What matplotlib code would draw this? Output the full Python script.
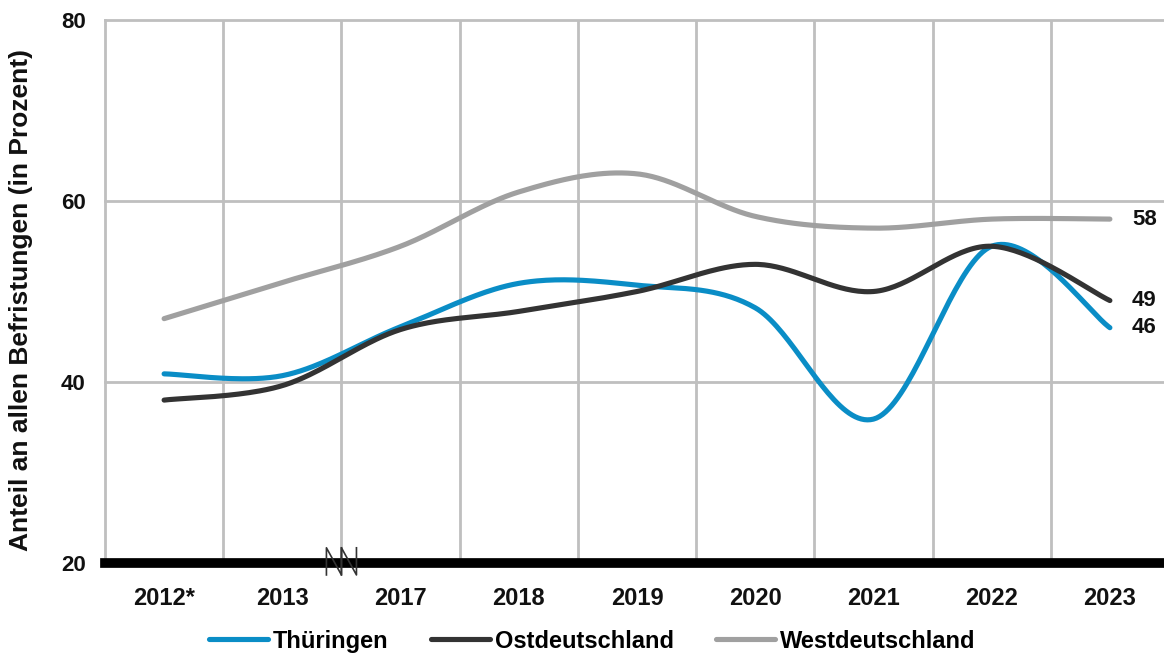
import numpy as np
import matplotlib
matplotlib.use("Agg")
import matplotlib.pyplot as plt
import matplotlib.transforms as mtransforms

plt.rcParams["font.family"] = ["Liberation Sans", "DejaVu Sans"]
plt.rcParams["font.weight"] = "bold"

years = ["2012*", "2013", "2017", "2018", "2019", "2020", "2021", "2022", "2023"]
thueringen = [40.9, 40.7, 46.1, 50.9, 50.7, 48.2, 35.9, 55.0, 46.0]
ostdeutschland = [38.0, 39.6, 45.8, 47.8, 50.0, 53.0, 50.0, 55.0, 49.0]
westdeutschland = [47.0, 51.0, 55.0, 61.0, 63.0, 58.3, 57.0, 58.0, 58.0]
end_labels = [46, 49, 58]

series = [
    ("Thüringen", thueringen, "#0A8DC6"),
    ("Ostdeutschland", ostdeutschland, "#333333"),
    ("Westdeutschland", westdeutschland, "#A0A0A0"),
]


def smooth(y, steps=40):
    """Catmull-Rom style cubic Bezier through the points (like spreadsheet smoothing)."""
    y = np.asarray(y, dtype=float)
    x = np.arange(len(y), dtype=float)
    pts = np.column_stack([x, y])
    padded = np.vstack([pts[0], pts, pts[-1]])
    t = np.linspace(0, 1, steps)[:, None]
    out = []
    for i in range(len(pts) - 1):
        p0, p1, p2, p3 = padded[i], padded[i + 1], padded[i + 2], padded[i + 3]
        c1 = p1 + (p2 - p0) / 6
        c2 = p2 - (p3 - p1) / 6
        seg = ((1 - t) ** 3) * p1 + 3 * ((1 - t) ** 2) * t * c1 \
            + 3 * (1 - t) * t ** 2 * c2 + t ** 3 * p2
        out.append(seg if i == 0 else seg[1:])
    seg = np.vstack(out)
    return seg[:, 0], seg[:, 1]


W, H = 1164, 657
fig = plt.figure(figsize=(W / 100, H / 100), dpi=100)
ax = fig.add_axes([105 / W, 94 / H, 1064 / W, 543 / H])

grid_c = "#BFBFBF"
for b in np.arange(0.5, len(years) - 0.5, 1.0):
    ax.axvline(b, color=grid_c, lw=2, zorder=1)
for v in [40, 60, 80]:
    ax.axhline(v, color=grid_c, lw=2, zorder=1, clip_on=False)
ax.axhline(20, color="black", lw=7, zorder=3, clip_on=False)

for name, vals, col in series:
    xs, ys = smooth(vals)
    ax.plot(xs, ys, color=col, lw=3.7, solid_capstyle="round", label=name, zorder=4)

for (name, vals, col), lab in zip(series, end_labels):
    ax.annotate(str(lab), xy=(len(years) - 1, vals[-1]), xytext=(16, 0),
                textcoords="offset points", ha="left", va="center",
                fontsize=16, fontweight="bold", color="#111111")

# axis break marker between 2013 and 2017
trans = mtransforms.blended_transform_factory(ax.transData, ax.transAxes)
dx = 0.127
top, bot = 0.028, -0.022
for x0 in [1.5 - dx, 1.5]:
    ax.plot([x0, x0, x0 + dx, x0 + dx], [bot, top, bot, top], color="#333333",
            lw=1.2, transform=trans, clip_on=False, zorder=5)

ax.set_xlim(-0.5, len(years) - 0.5)
ax.set_ylim(20, 80)
ax.set_yticks([20, 40, 60, 80])
ax.set_xticks(range(len(years)))
ax.set_xticklabels(years)
ax.tick_params(axis="both", length=0, colors="#111111")
ax.tick_params(axis="x", pad=17, labelsize=17)
ax.tick_params(axis="y", pad=14, labelsize=16)
for lbl in ax.get_xticklabels() + ax.get_yticklabels():
    lbl.set_fontweight("bold")

for s in ["top", "right", "bottom"]:
    ax.spines[s].set_visible(False)
ax.spines["left"].set_color(grid_c)
ax.spines["left"].set_linewidth(2)

ax.set_ylabel("Anteil an allen Befristungen (in Prozent)", fontsize=19,
              fontweight="bold", color="#111111")
ax.yaxis.set_label_coords(-0.068, 0.484)

fig.legend(loc="center", bbox_to_anchor=(0.509, 0.024), ncol=3, frameon=False,
           fontsize=17, handlelength=2.5, handletextpad=0.2, columnspacing=1.8)

fig.savefig("out.png", dpi=100)
